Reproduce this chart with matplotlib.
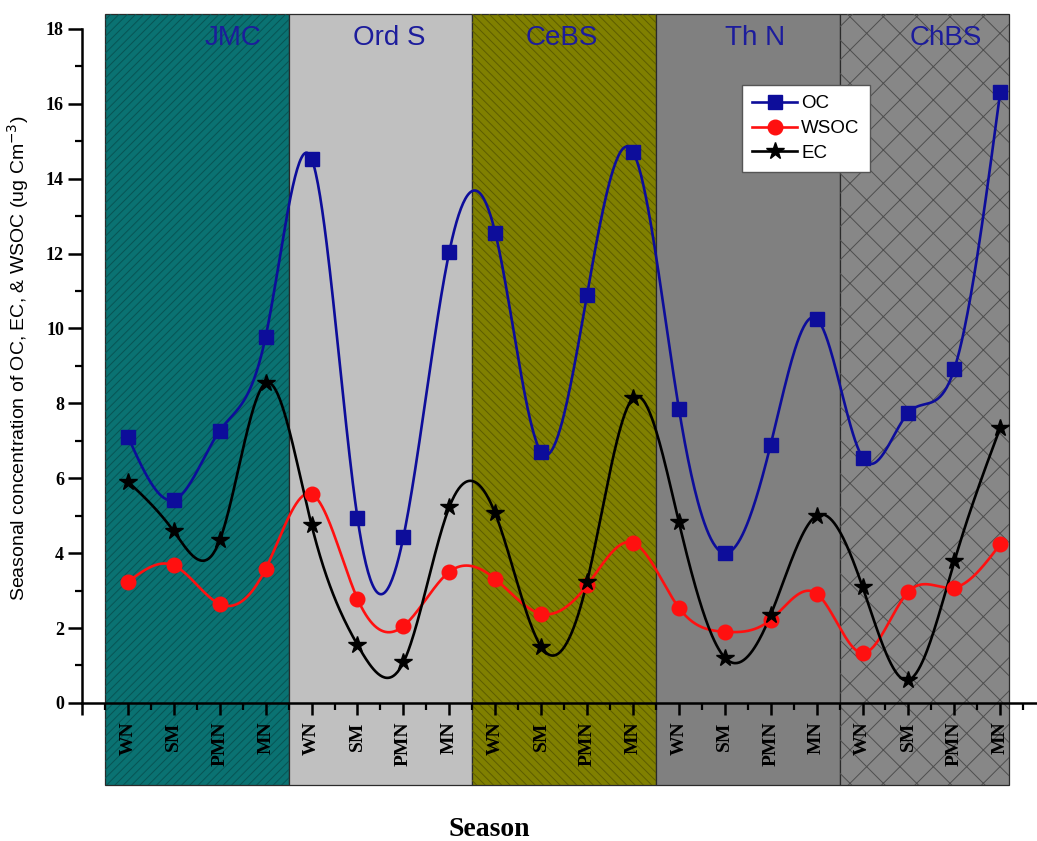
import numpy as np
import matplotlib
matplotlib.use('Agg')
import matplotlib.pyplot as plt
from matplotlib.patches import Rectangle
from matplotlib.ticker import FixedLocator

# ---------------- data ----------------
seasons = ['WN', 'SM', 'PMN', 'MN'] * 5
regions = ['JMC', 'Ord S', 'CeBS', 'Th N', 'ChBS']
oc = [7.11, 5.42, 7.27, 9.78, 14.53, 4.94, 4.43, 12.05, 12.56, 6.70,
      10.90, 14.72, 7.86, 4.00, 6.90, 10.26, 6.55, 7.75, 8.92, 16.32]
wsoc = [3.23, 3.67, 2.64, 3.58, 5.58, 2.78, 2.05, 3.50, 3.31, 2.38,
        3.14, 4.28, 2.54, 1.90, 2.22, 2.92, 1.33, 2.97, 3.08, 4.24]
ec = [5.91, 4.58, 4.34, 8.54, 4.75, 1.55, 1.08, 5.23, 5.06, 1.50,
      3.23, 8.14, 4.83, 1.21, 2.35, 5.00, 3.10, 0.61, 3.78, 7.35]

# ---------------- style ----------------
panel_face = ['#0a7272', '#c0c0c0', '#808000', '#808080', '#878787']
panel_hatch = ['////', None, '\\\\\\\\', None, 'x']
panel_hatch_col = ['#085454', None, '#5c5c00', None, '#4e4e4e']
panel_left = [0.5, 4.5, 8.5, 12.5, 16.5]
panel_right = [4.5, 8.5, 12.5, 16.5, 20.2]
panel_bottom = -2.2
panel_top = 18.4
label_x = [3.29, 6.70, 10.45, 14.67, 18.82]

serif = 'Liberation Serif'
sans = 'Liberation Sans'
plt.rcParams['hatch.linewidth'] = 0.7


def natural_spline(xp, yp, xs):
    xp = np.asarray(xp, float)
    yp = np.asarray(yp, float)
    n = len(xp)
    h = np.diff(xp)
    A = np.zeros((n, n))
    r = np.zeros(n)
    A[0, 0] = 1.0
    A[-1, -1] = 1.0
    for i in range(1, n - 1):
        A[i, i - 1] = h[i - 1]
        A[i, i] = 2 * (h[i - 1] + h[i])
        A[i, i + 1] = h[i]
        r[i] = 6 * ((yp[i + 1] - yp[i]) / h[i] - (yp[i] - yp[i - 1]) / h[i - 1])
    M = np.linalg.solve(A, r)
    idx = np.clip(np.searchsorted(xp, xs) - 1, 0, n - 2)
    x0, x1 = xp[idx], xp[idx + 1]
    hh = x1 - x0
    a = (x1 - xs) / hh
    b = (xs - x0) / hh
    return (a * yp[idx] + b * yp[idx + 1]
            + ((a ** 3 - a) * M[idx] + (b ** 3 - b) * M[idx + 1]) * hh ** 2 / 6)


fig = plt.figure(figsize=(10.37, 8.41), dpi=100)
ax = fig.add_axes([82 / 1037, 0.0618, 1 - 82 / 1037, 0.9239])
ax.set_xlim(0, 20.8)
ax.set_ylim(-2.3, 18.45)

# background panels
for i, name in enumerate(regions):
    w = panel_right[i] - panel_left[i]
    ax.add_patch(Rectangle((panel_left[i], panel_bottom), w, panel_top - panel_bottom,
                           facecolor=panel_face[i], edgecolor='#2a2a2a', lw=0.9, zorder=0.5))
    if panel_hatch[i]:
        ax.add_patch(Rectangle((panel_left[i], panel_bottom), w, panel_top - panel_bottom,
                               facecolor='none', edgecolor=panel_hatch_col[i], lw=0,
                               hatch=panel_hatch[i], zorder=0.6))
    ax.text(label_x[i], 17.76, name, color='#1c1c9c', fontsize=20, family=sans,
            ha='center', va='center', zorder=3)

x = np.arange(1, len(seasons) + 1)
xs = np.linspace(1, len(seasons), 800)

series = [(oc, '#0d0d9a', 's', 9.5, 'OC'),
          (wsoc, '#ff1010', 'o', 10.5, 'WSOC'),
          (ec, 'black', '*', 13, 'EC')]
handles = []
for vals, col, mk, ms, lab in series:
    ax.plot(xs, natural_spline(x, vals, xs), color=col, lw=1.9, zorder=3)
    ax.plot(x, vals, linestyle='none', marker=mk, ms=ms, color=col,
            mec=col, zorder=4)
    h, = ax.plot([], [], color=col, lw=1.9, marker=mk, ms=ms, label=lab)
    handles.append(h)

# spines
for s in ['top', 'right']:
    ax.spines[s].set_visible(False)
ax.spines['left'].set_bounds(0, 18)
ax.spines['left'].set_linewidth(1.8)
ax.spines['bottom'].set_position(('data', 0))
ax.spines['bottom'].set_linewidth(1.8)
ax.spines['left'].set_zorder(5)
ax.spines['bottom'].set_zorder(5)

# ticks
ax.yaxis.set_major_locator(FixedLocator(np.arange(0, 19, 2)))
ax.yaxis.set_minor_locator(FixedLocator(np.arange(1, 18, 2)))
ax.xaxis.set_major_locator(FixedLocator(np.arange(0, len(seasons) + 1)))
ax.xaxis.set_minor_locator(FixedLocator(np.arange(0.5, len(seasons) + 1, 1)))
ax.set_xticklabels([''] + seasons, rotation=90, fontsize=14,
                   fontweight='bold', family=serif)
ax.set_yticklabels([str(v) for v in range(0, 19, 2)], fontsize=13,
                   fontweight='bold', family=serif)
ax.tick_params(axis='y', which='major', direction='out', length=10, width=1.8, pad=3)
ax.tick_params(axis='y', which='minor', direction='out', length=5, width=1.6)
ax.tick_params(axis='x', which='major', direction='out', length=8.5, width=1.8, pad=5)
ax.tick_params(axis='x', which='minor', direction='out', length=5, width=1.6)

# labels
fig.text(18 / 1037, 1 - 358 / 841,
         'Seasonal concentration of OC, EC, & WSOC (ug Cm$^{-3}$)',
         rotation=90, ha='center', va='center', fontsize=14, family=sans)
fig.text(489 / 1037, 1 - 830 / 841, 'Season', ha='center', va='center',
         fontsize=20, fontweight='bold', family=serif)

leg = fig.legend(handles=handles, loc='upper left',
                 bbox_to_anchor=(742 / 1037, 1 - 85 / 841), borderaxespad=0,
                 prop={'family': sans, 'size': 13.5}, fancybox=False,
                 framealpha=1, edgecolor='#555555', handlelength=2.4,
                 handletextpad=0.2, labelspacing=0.4, borderpad=0.55)
leg.get_frame().set_linewidth(1.0)

fig.savefig('out.png', dpi=100)
